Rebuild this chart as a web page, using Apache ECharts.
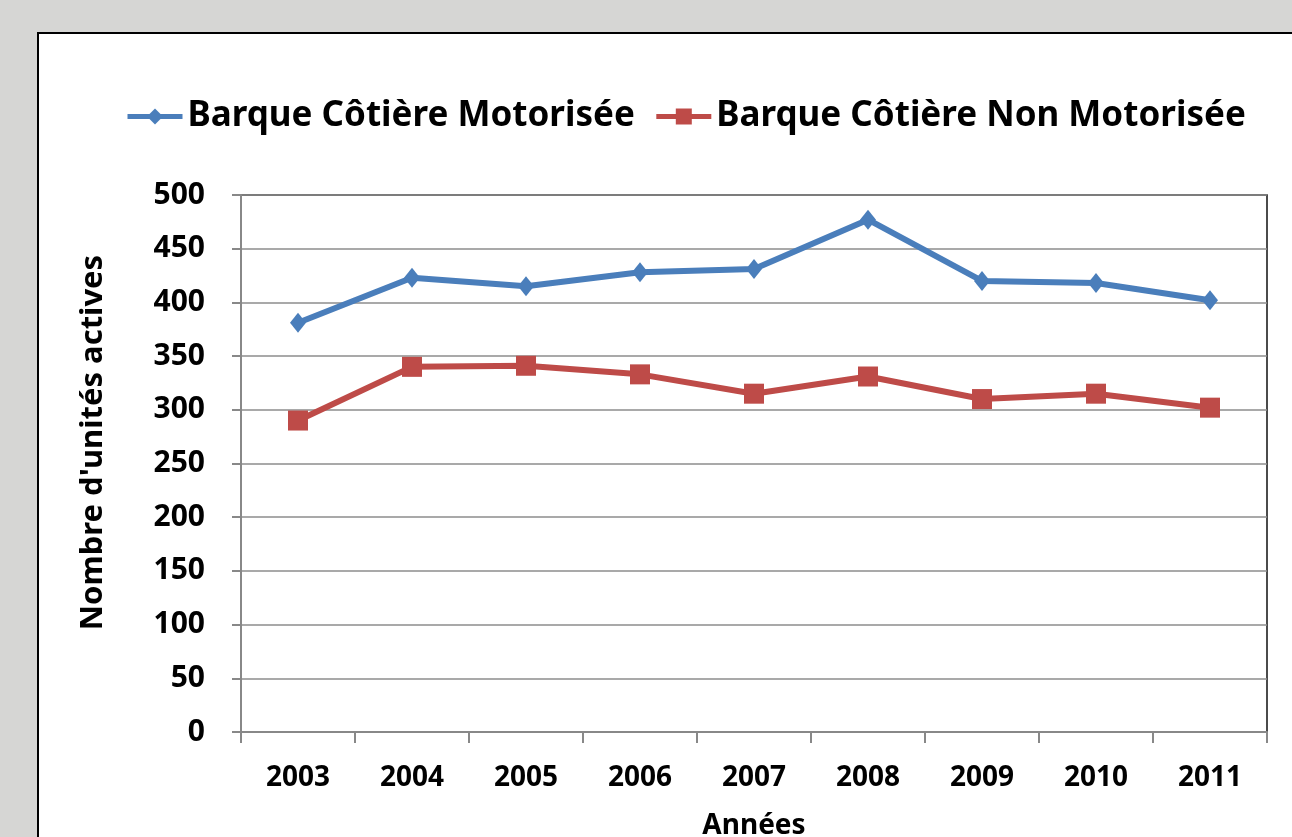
<!DOCTYPE html>
<html>
<head>
    <meta charset="utf-8">
    <title>Barques côtières</title>
    <script src="https://cdn.jsdelivr.net/npm/echarts@6/dist/echarts.min.js"></script>
    <style type="text/css">
        html, body{
            margin: 0;
            padding: 0;
            background: #d6d6d4;
        }
        #main{
            width: 1292px;
            height: 837px;
        }
    </style>
</head>
<body>
<div id="main"></div>
<script>
    var annees = ['2003', '2004', '2005', '2006', '2007', '2008', '2009', '2010', '2011'];
    var motorisee = [381, 423, 415, 428, 431, 477, 420, 418, 402];
    var nonMotorisee = [290, 340, 341, 333, 315, 331, 310, 315, 302];
    var ticksY = [0, 500, 50];

    var police = 'Noto Sans';
    var myChart = echarts.init(document.getElementById('main'));
    var option = {
        backgroundColor: 'transparent',
        textStyle: {fontFamily: police},
        graphic: [{
            type: 'rect',
            z: -10,
            shape: {x: 38, y: 33, width: 1300, height: 850},
            style: {fill: '#ffffff', stroke: '#000', lineWidth: 2}
        }],
        legend: {
            top: 94,
            left: 120,
            itemWidth: 55,
            itemHeight: 20,
            itemGap: 19,
            lineStyle: {width: 5},
            textStyle: {fontFamily: police, fontWeight: 'bold', fontSize: 35, color: '#000'},
            data: ['Barque Côtière Motorisée', 'Barque Côtière Non Motorisée']
        },
        grid: {
            left: 241, right: 25, top: 195, height: 537,
            outerBoundsMode: 'none',
            show: true, borderColor: '#111', borderWidth: 1.5
        },
        xAxis: {
            type: 'category',
            data: annees,
            boundaryGap: true,
            name: 'Années',
            nameLocation: 'middle',
            nameGap: 80,
            nameTextStyle: {fontFamily: police, fontWeight: 'bold', fontSize: 28, color: '#000'},
            axisLine: {lineStyle: {color: '#888', width: 2}},
            axisTick: {show: true, length: 11, alignWithLabel: false, lineStyle: {color: '#888', width: 2}},
            axisLabel: {fontFamily: police, fontWeight: 'bold', fontSize: 28, color: '#000', margin: 32}
        },
        yAxis: {
            type: 'value',
            min: ticksY[0], max: ticksY[1], interval: ticksY[2],
            name: "Nombre d'unités actives",
            nameLocation: 'middle',
            nameGap: 132,
            nameTextStyle: {fontFamily: police, fontWeight: 'bold', fontSize: 31, color: '#000', padding: [0, 0, 0, 42]},
            axisLine: {show: true, lineStyle: {color: '#888', width: 2}},
            axisTick: {show: true, length: 9, lineStyle: {color: '#888', width: 2}},
            axisLabel: {fontFamily: police, fontWeight: 'bold', fontSize: 30, color: '#000', margin: 36},
            splitLine: {lineStyle: {color: '#8c8c8c', width: 1.5}}
        },
        series: [{
            name: 'Barque Côtière Motorisée',
            type: 'line',
            data: motorisee,
            symbol: 'diamond',
            symbolSize: [16, 20],
            lineStyle: {color: '#4a7ebb', width: 6},
            itemStyle: {color: '#4a7ebb'}
        }, {
            name: 'Barque Côtière Non Motorisée',
            type: 'line',
            data: nonMotorisee,
            symbol: 'rect',
            symbolSize: 20,
            lineStyle: {color: '#be4b48', width: 6},
            itemStyle: {color: '#be4b48'}
        }]
    };
    myChart.setOption(option);
</script>
</body>
</html>
